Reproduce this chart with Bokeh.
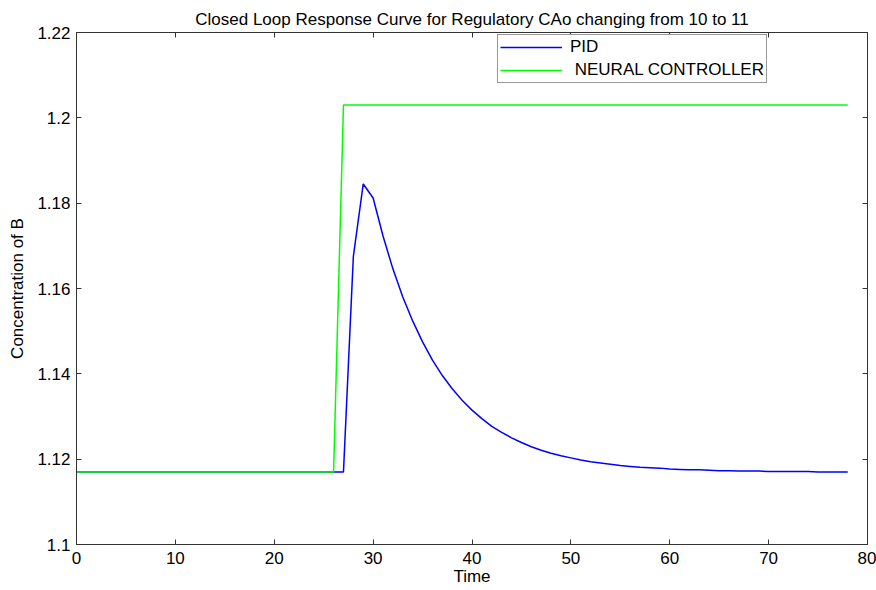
from bokeh.plotting import figure
from bokeh.models import (Range1d, FixedTicker, PrintfTickFormatter, LinearAxis,
                          Legend, LegendItem, CustomJSTickFormatter)
from bokeh.embed import file_html
from bokeh.resources import INLINE

# ---- data ----
pid_t = [0, 27, 28, 29, 30, 31, 32, 33, 34, 35, 36, 37, 38, 39, 40, 41, 42, 43, 44,
         45, 46, 47, 48, 49, 50, 51, 52, 53, 54, 55, 56, 57, 58, 59, 60, 61, 62, 63,
         64, 65, 66, 67, 68, 69, 70, 71, 72, 73, 74, 75, 76, 77, 78]
pid_y = [1.117, 1.117, 1.1675, 1.1845, 1.1812, 1.1723, 1.1646, 1.1580, 1.1524,
         1.1475, 1.1432, 1.1396, 1.1365, 1.1338, 1.1315, 1.1295, 1.1277, 1.1263,
         1.1250, 1.1239, 1.1229, 1.1221, 1.1214, 1.1208, 1.1203, 1.1198, 1.1194,
         1.1191, 1.1188, 1.1185, 1.1183, 1.1181, 1.1180, 1.1179, 1.1177, 1.1176,
         1.1175, 1.1175, 1.1174, 1.1173, 1.1173, 1.1172, 1.1172, 1.1172, 1.1171,
         1.1171, 1.1171, 1.1171, 1.1171, 1.1170, 1.1170, 1.1170, 1.1170]
nn_t = [0, 26, 27, 78]
nn_y = [1.117, 1.117, 1.203, 1.203]

x_ticks = [0, 10, 20, 30, 40, 50, 60, 70, 80]
y_ticks = [1.1, 1.12, 1.14, 1.16, 1.18, 1.2, 1.22]

FONT = "Liberation Sans"
FS = "17px"

p = figure(width=876, height=588, output_backend="svg", toolbar_location=None,
           x_range=Range1d(0, 80), y_range=Range1d(1.1, 1.22),
           min_border_left=76, min_border_right=9, min_border_top=32,
           min_border_bottom=42)
p.title.text = "Closed Loop Response Curve for Regulatory CAo changing from 10 to 11"
p.title.align = "center"
p.title.text_font = FONT
p.title.text_font_size = FS
p.title.text_font_style = "normal"
p.title.text_color = "black"
p.title.offset = 0
p.title.standoff = 8
p.xgrid.visible = False
p.ygrid.visible = False
p.outline_line_color = "#333333"
p.outline_line_width = 1

r_pid = p.line(pid_t, pid_y, line_color="#0000ff", line_width=1.5)
r_nn = p.line(nn_t, nn_y, line_color="#00ff00", line_width=1.5)

def style_axis(ax):
    ax.major_tick_in = 5
    ax.major_tick_out = 0
    ax.minor_tick_in = 0
    ax.minor_tick_out = 0
    ax.axis_line_color = "#333333"
    ax.major_tick_line_color = "#333333"
    ax.major_label_text_font = FONT
    ax.major_label_text_font_size = FS
    ax.major_label_text_color = "black"
    ax.axis_label_text_font = FONT
    ax.axis_label_text_font_size = FS
    ax.axis_label_text_font_style = "normal"
    ax.axis_label_text_color = "black"

p.xaxis.ticker = FixedTicker(ticks=x_ticks)
p.yaxis.ticker = FixedTicker(ticks=y_ticks)
p.yaxis.formatter = PrintfTickFormatter(format="%g")
p.xaxis.axis_label = "Time"
p.yaxis.axis_label = "Concentration of B"
style_axis(p.xaxis[0])
style_axis(p.yaxis[0])
p.xaxis.major_label_standoff = 7
p.xaxis.axis_label_standoff = 0
p.yaxis.major_label_standoff = 6
p.yaxis.axis_label_standoff = 7

blank = CustomJSTickFormatter(code="return '';")
ax_top = LinearAxis(ticker=FixedTicker(ticks=x_ticks), formatter=blank)
ax_right = LinearAxis(ticker=FixedTicker(ticks=y_ticks), formatter=blank)
style_axis(ax_top)
style_axis(ax_right)
ax_top.major_label_standoff = 0
ax_right.major_label_standoff = 0
p.add_layout(ax_top, "above")
p.add_layout(ax_right, "right")

legend = Legend(items=[LegendItem(label="PID", renderers=[r_pid]),
                       LegendItem(label=" NEURAL CONTROLLER", renderers=[r_nn])],
                location=(421, 461))
legend.label_text_font = FONT
legend.label_text_font_size = FS
legend.label_text_color = "black"
legend.glyph_width = 62
legend.glyph_height = 16
legend.label_standoff = 8
legend.spacing = 3
legend.padding = 2
legend.margin = 0
legend.border_line_color = "#333333"
legend.border_line_width = 1
legend.label_height = 18
p.add_layout(legend, "center")

open("out.html", "w").write(file_html(p, INLINE))
